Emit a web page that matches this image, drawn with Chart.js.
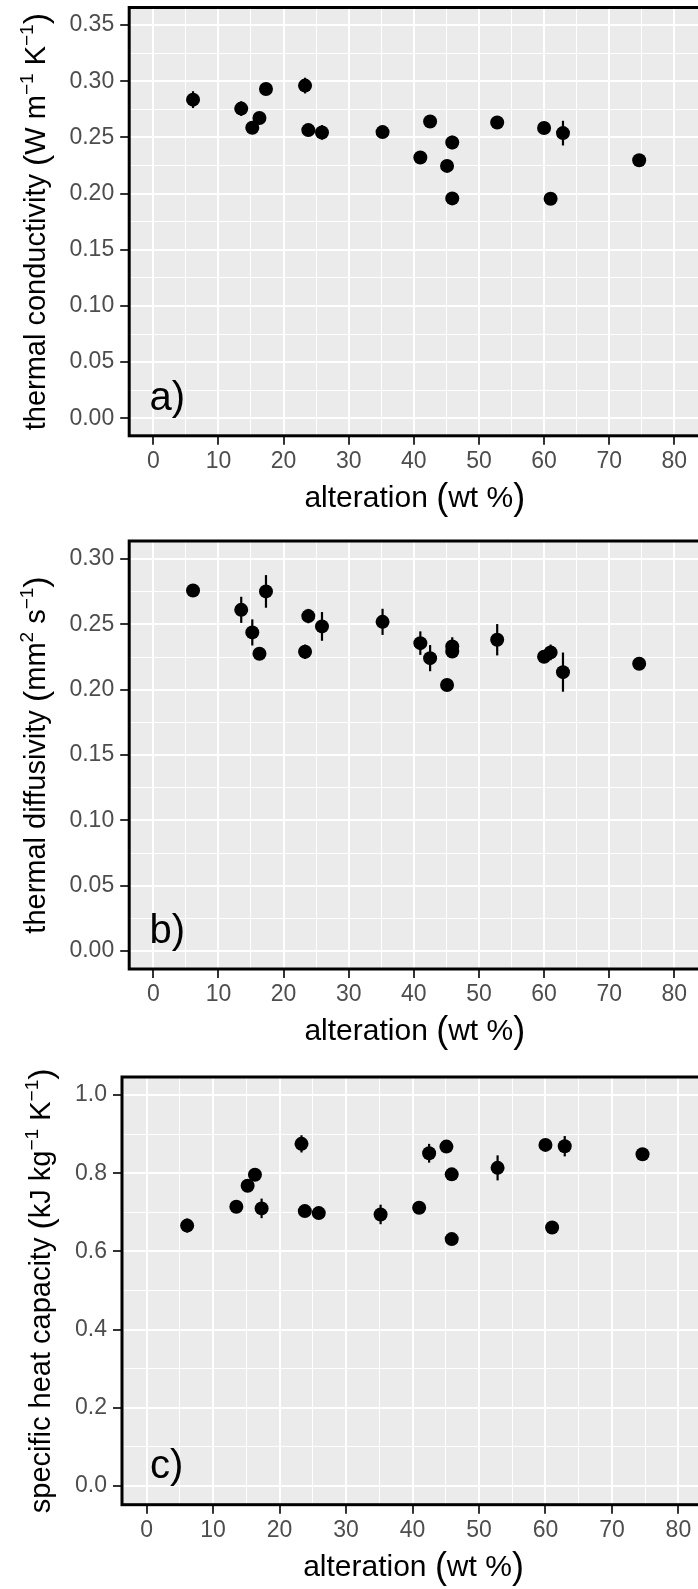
<!DOCTYPE html>
<html>
<head>
<meta charset="utf-8">
<script src="https://cdn.jsdelivr.net/npm/chart.js@4.4.1/dist/chart.umd.min.js"></script>
<style>
html, body { margin: 0; padding: 0; background: #fff; overflow: hidden; width: 698px; height: 1589px; position: relative; }
canvas { position: absolute; left: 0; }
</style>
</head>
<body>
<canvas id="panelA" width="712" height="530" style="top:0px"></canvas>
<canvas id="panelB" width="712" height="535" style="top:530px"></canvas>
<canvas id="panelC" width="712" height="549" style="top:1040px"></canvas>
<script>
// alteration of each sample (wt %), shared by the three panels
var alteration = [6.1, 13.5, 15.2, 16.3, 17.3, 23.3, 23.8, 25.9, 35.2, 41.0, 42.5, 45.1, 45.9, 45.9, 52.8, 60.0, 61.0, 62.9, 74.6];

// a) thermal conductivity (W m-1 K-1)
var conductivity    = [0.2836, 0.2756, 0.2586, 0.2672, 0.2931, 0.2961, 0.2565, 0.2544, 0.2547, 0.2321, 0.2642, 0.2246, 0.2455, 0.1957, 0.2633, 0.2583, 0.1954, 0.2538, 0.2297];
var conductivityErr = [0.0075, 0.0065, 0.003, 0.003, 0.003, 0.007, 0.003, 0.0065, 0.003, 0.003, 0.003, 0.003, 0.006, 0.003, 0.003, 0.003, 0.003, 0.011, 0.003];

// b) thermal diffusivity (mm2 s-1)
var diffusivity    = [0.2760, 0.2612, 0.2439, 0.2276, 0.2753, 0.2291, 0.2564, 0.2485, 0.2520, 0.2357, 0.2242, 0.2036, 0.2332, 0.2293, 0.2383, 0.2253, 0.2286, 0.2135, 0.2199];
var diffusivityErr = [0.002, 0.010, 0.010, 0.004, 0.0125, 0.0055, 0.0055, 0.011, 0.010, 0.009, 0.010, 0.003, 0.007, 0.004, 0.012, 0.003, 0.006, 0.015, 0.002];

// c) specific heat capacity (kJ kg-1 K-1)
var heatCapacity    = [0.666, 0.714, 0.768, 0.796, 0.710, 0.875, 0.703, 0.698, 0.6945, 0.7115, 0.851, 0.868, 0.797, 0.6315, 0.8136, 0.8723, 0.6613, 0.869, 0.8485];
var heatCapacityErr = [0.018, 0.01, 0.01, 0.01, 0.025, 0.022, 0.01, 0.01, 0.025, 0.01, 0.024, 0.01, 0.01, 0.01, 0.032, 0.01, 0.01, 0.026, 0.01];

// ticks
var xTicks  = [0, 10, 20, 30, 40, 50, 60, 70, 80];
var xLabels = ['0', '10', '20', '30', '40', '50', '60', '70', '80'];
var xMinor  = [5, 15, 25, 35, 45, 55, 65, 75];

var yTicksA  = [0, 0.05, 0.10, 0.15, 0.20, 0.25, 0.30, 0.35];
var yLabelsA = ['0.00', '0.05', '0.10', '0.15', '0.20', '0.25', '0.30', '0.35'];
var yMinorA  = [0.025, 0.075, 0.125, 0.175, 0.225, 0.275, 0.325];

var yTicksB  = [0, 0.05, 0.10, 0.15, 0.20, 0.25, 0.30];
var yLabelsB = ['0.00', '0.05', '0.10', '0.15', '0.20', '0.25', '0.30'];
var yMinorB  = [0.025, 0.075, 0.125, 0.175, 0.225, 0.275];

var yTicksC  = [0, 0.2, 0.4, 0.6, 0.8, 1.0];
var yLabelsC = ['0.0', '0.2', '0.4', '0.6', '0.8', '1.0'];
var yMinorC  = [0.1, 0.3, 0.5, 0.7, 0.9];

var FONT = "'Liberation Sans', Arial, Helvetica, sans-serif";

// x title pieces are a bit bigger than the y ones
function txt(t, s) { return { t: t, size: s || 29, dy: 0 }; }
function paren(t, s) { return { t: t, size: s || 34, dy: 2 }; }
function sup(t) { return { t: t, size: 19, dy: -12 }; }

function idxOf(v, arr) {
  for (var i = 0; i < arr.length; i++) if (Math.abs(arr[i] - v) < 1e-9) return i;
  return -1;
}

function richWidth(ctx, parts) {
  var w = 0;
  parts.forEach(function (p) { ctx.font = p.size + 'px ' + FONT; w += ctx.measureText(p.t).width; });
  return w;
}
function drawRich(ctx, parts, x, y) {
  ctx.textAlign = 'left';
  ctx.textBaseline = 'alphabetic';
  parts.forEach(function (p) {
    ctx.font = p.size + 'px ' + FONT;
    ctx.fillText(p.t, x, y + p.dy);
    x += ctx.measureText(p.t).width;
  });
}

var decor = {
  id: 'decor',
  beforeDraw: function (chart) {
    var a = chart.chartArea, ctx = chart.ctx;
    ctx.save();
    ctx.fillStyle = '#EBEBEB';
    ctx.fillRect(a.left, a.top, a.right - a.left, a.bottom - a.top);
    ctx.restore();
  },
  beforeDatasetsDraw: function (chart) {
    var p = chart.options.plugins.decor, ctx = chart.ctx;
    var xs = chart.scales.x, ys = chart.scales.y;
    ctx.save();
    ctx.strokeStyle = '#000';
    ctx.lineWidth = 2.2;
    p.values.forEach(function (v, i) {
      var x = xs.getPixelForValue(alteration[i]);
      ctx.beginPath();
      ctx.moveTo(x, ys.getPixelForValue(v - p.errors[i]));
      ctx.lineTo(x, ys.getPixelForValue(v + p.errors[i]));
      ctx.stroke();
    });
    ctx.restore();
  },
  afterDraw: function (chart) {
    var p = chart.options.plugins.decor, ctx = chart.ctx, a = chart.chartArea;
    var xs = chart.scales.x, ys = chart.scales.y;
    ctx.save();
    // panel border
    ctx.strokeStyle = '#000';
    ctx.lineWidth = 3;
    ctx.strokeRect(a.left, a.top, a.right - a.left, a.bottom - a.top);
    ctx.fillStyle = '#000';
    // panel letter
    ctx.font = '40px ' + FONT;
    ctx.textAlign = 'left';
    ctx.textBaseline = 'alphabetic';
    ctx.fillText(p.label, xs.getPixelForValue(p.labelX), ys.getPixelForValue(0) - 8);
    // x title
    var xt = [txt('alteration ', 30), paren('(', 36), txt('wt %', 30), paren(')', 36)];
    var w = richWidth(ctx, xt);
    drawRich(ctx, xt, (a.left + a.right) / 2 - w / 2, a.bottom + 71);
    // y title
    var yw = richWidth(ctx, p.title);
    ctx.translate(p.titleX, (a.top + a.bottom) / 2);
    ctx.rotate(-Math.PI / 2);
    drawRich(ctx, p.title, -yw / 2, 0);
    ctx.restore();
  }
};

function makePanel(id, cfg) {
  var canvas = document.getElementById(id);
  var W = canvas.width, H = canvas.height;
  var pts = alteration.map(function (x, i) { return { x: x, y: cfg.values[i] }; });
  new Chart(canvas.getContext('2d'), {
    type: 'scatter',
    data: {
      datasets: [{
        data: pts,
        pointRadius: 7,
        pointHoverRadius: 7,
        pointBackgroundColor: '#000',
        pointBorderWidth: 0
      }]
    },
    plugins: [decor],
    options: {
      responsive: false,
      animation: false,
      devicePixelRatio: 1,
      events: [],
      layout: { padding: { top: cfg.area.top, right: W - cfg.area.right, left: 0, bottom: 0 } },
      plugins: {
        legend: { display: false },
        tooltip: { enabled: false },
        decor: { values: cfg.values, errors: cfg.errors, label: cfg.label, labelX: cfg.labelX, title: cfg.title, titleX: cfg.titleX }
      },
      scales: {
        x: {
          type: 'linear',
          min: cfg.xMin,
          max: 84,
          afterBuildTicks: function (s) {
            s.ticks = xTicks.concat(xMinor).sort(function (a, b) { return a - b; }).map(function (v) { return { value: v }; });
          },
          afterFit: function (s) { s.height = H - cfg.area.bottom; s.paddingLeft = 0; s.paddingRight = 0; },
          border: { display: false },
          grid: {
            color: '#FFFFFF',
            lineWidth: function (c) { return idxOf(c.tick.value, xTicks) >= 0 ? 2 : 1; },
            tickLength: 9,
            tickWidth: 2,
            tickColor: function (c) { return idxOf(c.tick.value, xTicks) >= 0 ? '#333333' : 'rgba(0,0,0,0)'; }
          },
          ticks: {
            autoSkip: false, maxRotation: 0, padding: 3,
            color: '#4D4D4D', font: { family: FONT, size: 23 },
            callback: function (v) { var i = idxOf(v, xTicks); return i >= 0 ? xLabels[i] : ''; }
          }
        },
        y: {
          type: 'linear',
          min: cfg.yMin,
          max: cfg.yMax,
          afterBuildTicks: function (s) {
            s.ticks = cfg.yTicks.concat(cfg.yMinor).sort(function (a, b) { return a - b; }).map(function (v) { return { value: v }; });
          },
          afterFit: function (s) { s.width = cfg.area.left; s.paddingTop = 0; s.paddingBottom = 0; },
          border: { display: false },
          grid: {
            color: '#FFFFFF',
            lineWidth: function (c) { return idxOf(c.tick.value, cfg.yTicks) >= 0 ? 2 : 1; },
            tickLength: 9,
            tickWidth: 2,
            tickColor: function (c) { return idxOf(c.tick.value, cfg.yTicks) >= 0 ? '#333333' : 'rgba(0,0,0,0)'; }
          },
          ticks: {
            autoSkip: false, padding: 6,
            color: '#4D4D4D', font: { family: FONT, size: 23 },
            callback: function (v) { var i = idxOf(v, cfg.yTicks); return i >= 0 ? cfg.yLabels[i] : ''; }
          }
        }
      }
    }
  });
}

makePanel('panelA', {
  values: conductivity, errors: conductivityErr,
  yMin: -0.0156, yMax: 0.3656, xMin: -3.7,
  yTicks: yTicksA, yMinor: yMinorA, yLabels: yLabelsA,
  area: { left: 129.2, top: 7.5, bottom: 435.8, right: 700.4 },
  label: 'a)', labelX: -0.6, titleX: 44.5,
  title: [txt('thermal conductivity '), paren('('), txt('W m'), sup('\u22121'), txt(' K'), sup('\u22121'), paren(')')]
});

makePanel('panelB', {
  values: diffusivity, errors: diffusivityErr,
  yMin: -0.0138, yMax: 0.3139, xMin: -3.7,
  yTicks: yTicksB, yMinor: yMinorB, yLabels: yLabelsB,
  area: { left: 129.2, top: 11, bottom: 439, right: 700.4 },
  label: 'b)', labelX: -0.6, titleX: 44.5,
  title: [txt('thermal diffusivity '), paren('('), txt('mm'), sup('2'), txt(' s'), sup('\u22121'), paren(')')]
});

makePanel('panelC', {
  values: heatCapacity, errors: heatCapacityErr,
  yMin: -0.0478, yMax: 1.046, xMin: -3.7,
  yTicks: yTicksC, yMinor: yMinorC, yLabels: yLabelsC,
  area: { left: 122, top: 37, bottom: 464.7, right: 707 },
  label: 'c)', labelX: 0.5, titleX: 50,
  title: [txt('specific heat capacity '), paren('('), txt('kJ kg'), sup('\u22121'), txt(' K'), sup('\u22121'), paren(')')]
});
</script>
</body>
</html>
